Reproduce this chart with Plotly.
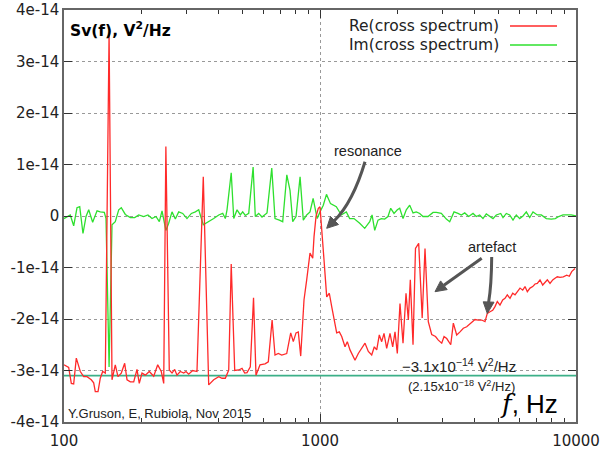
import plotly.graph_objects as go

# ---------------- data (values in units of 1e-14 V^2/Hz) ----------------
RE_FREQ = [
    100, 104.3, 106.8, 109.1, 111.7, 115.8, 119.4, 123.0, 127.8, 130.6,
    132.5, 135.8, 138.6, 141.6, 145.0, 150, 154.0, 158.6, 162.5, 167.4,
    172.6, 176.3, 181.6, 187.2, 192.8, 196.8, 201.7, 207.8, 215.4, 224.1,
    232.3, 239.9, 245.2, 250, 257.8, 264.2, 270.6, 276.3, 284.6, 293.5,
    299.6, 306.9, 318.2, 330.7, 350, 367.5, 384.4, 402.2, 414.3, 426.8,
    440.0, 450, 464.4, 481.4, 495.9, 508.1, 518.7, 534.3, 550, 562.3,
    583.0, 609.9, 628.2, 650, 667.2, 687.3, 708.7, 741.3, 768.4, 786.6,
    806.0, 822.7, 840.7, 866.0, 887.2, 914.0, 936.6, 947.7, 964.7, 984.9,
    1000, 1015.4, 1036.6, 1062.1, 1087.3, 1111.0, 1137.4, 1162.0, 1189.6, 1215.6,
    1252.3, 1278.3, 1309.9, 1342.0, 1370.1, 1411.4, 1455.3, 1499.2, 1544.4, 1592.2,
    1630, 1665.6, 1704.8, 1741.8, 1778.3, 1822.0, 1876.9, 1923, 1963.4, 2004.6,
    2053.6, 2110, 2167.6, 2213, 2253.2, 2308.9, 2360.5, 2429.4, 2507.2, 2571.6,
    2648.6, 2731, 2826.7, 2898.7, 2988.8, 3051.4, 3126.5, 3240.9, 3317.8, 3419.8,
    3523, 3629, 3741.5, 3854.3, 3949.5, 4032, 4154, 4282, 4411, 4503,
    4614, 4727, 4826, 4927, 5048, 5172, 5281, 5390, 5524, 5659,
    5777, 5898, 6044, 6192, 6322, 6455, 6612, 6775, 6916, 7061,
    7235, 7413, 7568, 7727, 7916, 8110, 8279, 8453, 8660, 8920,
    9199, 9415, 9621, 9910,
]
RE_VAL = [
    -2.89, -2.94, -3.25, -3.26, -2.76, -3.02, -3.12, -3.12, -3.18, -3.24,
    -3.41, -3.41, -3.15, -3.02, -3.05, 3.55, -3.18, -2.89, -3.12, -3.05,
    -2.86, -3.18, -3.22, -3.22, -2.98, -3.25, -3.05, -3.09, -3.02, -3.11,
    -2.89, -3.02, -3.25, 1.35, -2.99, -3.05, -2.98, -3.09, -3.02, -3.05,
    -3.02, -3.07, -3.00, -3.02, 0.76, -3.28, -3.18, -3.12, -3.15, -3.15,
    -2.99, -0.93, -3.00, -2.99, -2.96, -3.05, -3.04, -2.93, -1.59, -3.09,
    -2.89, -2.87, -2.83, -2.02, -2.70, -2.67, -2.70, -2.67, -2.27, -2.44,
    -2.27, -2.25, -2.72, -1.63, -1.24, -0.72, -0.82, -0.40, -0.01, 0.15,
    0.18, -0.21, -0.85, -1.57, -1.50, -1.76, -2.02, -2.27, -2.25, -2.34,
    -2.54, -2.44, -2.60, -2.70, -2.80, -2.67, -2.57, -2.47, -2.63, -2.70,
    -2.54, -2.60, -2.31, -2.44, -2.28, -2.57, -2.28, -2.54, -2.25, -2.67,
    -1.70, -2.47, -1.50, -2.02, -1.24, -2.50, -0.63, -0.53, -1.98, -0.63,
    -2.05, -2.30, -2.34, -2.41, -2.47, -2.34, -2.38, -2.50, -2.08, -2.31,
    -2.25, -2.18, -2.15, -2.10, -2.05, -2.01, -2.02, -2.02, -2.05, -1.89,
    -1.86, -1.83, -1.76, -1.66, -1.73, -1.63, -1.60, -1.53, -1.60, -1.50,
    -1.53, -1.47, -1.40, -1.44, -1.37, -1.47, -1.40, -1.37, -1.32, -1.31,
    -1.24, -1.34, -1.28, -1.24, -1.31, -1.24, -1.21, -1.18, -1.19, -1.18,
    -1.15, -1.17, -1.08, -1.02,
]
IM_FREQ = [
    100, 102.7, 105.8, 109.1, 112.4, 115.2, 118.6, 121.9, 124.9, 129.4,
    134.6, 138.6, 143.7, 145.9, 150, 154.0, 158.6, 163.6, 167.4, 173.6,
    181.6, 188.9, 195.8, 204.8, 212.8, 220.7, 228.7, 235.7, 241.5, 250,
    256.4, 264.2, 272.2, 280.6, 290.9, 302.3, 314.4, 325.9, 335.9, 350,
    367.5, 384.4, 402.2, 416.9, 426.8, 433.3, 450, 460.3, 474.2, 488.4,
    498.9, 510.8, 526.7, 548, 558.8, 576.2, 593.5, 621.0, 648, 667.2,
    693.5, 715.1, 742, 763.6, 782.4, 806.0, 836, 860.6, 887.2, 914.0,
    940, 958, 975, 1000, 1030, 1060, 1099, 1158, 1211, 1267,
    1306, 1358, 1429, 1495, 1564, 1597, 1636, 1685, 1736, 1789,
    1843, 1889, 1946, 2005, 2048, 2110, 2173, 2241, 2309, 2378,
    2452, 2525, 2642, 2764, 2847, 2978, 3115, 3211, 3338, 3460,
    3565, 3675, 3810, 3960, 4078, 4205, 4332, 4463, 4601, 4740,
    4883, 5081, 5187, 5343, 5508, 5674, 5845, 6027, 6209, 6396,
    6594, 6792, 7061, 7321, 7656, 8007, 8300, 8558, 8896, 9306,
    9585, 10000,
]
IM_VAL = [
    -0.05, -0.01, 0.02, -0.19, 0.16, 0.18, -0.34, -0.01, 0.12, -0.12,
    0.10, 0.08, 0.07, -0.05, -2.93, -0.17, -0.11, 0.12, 0.16, 0.03,
    -0.03, -0.03, 0.02, -0.01, 0.02, -0.05, -0.01, -0.11, 0.10, -0.28,
    -0.14, 0.08, -0.06, 0.08, 0.05, -0.05, 0.05, 0.08, 0.12, -0.17,
    -0.11, -0.05, 0.02, 0.05, -0.05, 0.12, 0.84, -0.05, 0.12, 0.02,
    0.08, 0.01, 0.05, 0.95, -0.01, 0.05, -0.02, 0.06, 0.93, -0.05,
    -0.08, -0.11, 0.80, 0.50, -0.11, -0.01, 0.76, -0.08, 0.02, 0.08,
    0.34, 0.12, -0.05, 0.08, 0.21, 0.42, 0.24, 0.18, 0.02, 0.08,
    -0.05, -0.05, -0.14, -0.24, -0.11, 0.02, -0.28, -0.08, -0.05, -0.06,
    -0.01, 0.15, 0.05, 0.12, 0.15, -0.05, 0.12, 0.21, 0.06, 0.08,
    0.05, -0.01, -0.01, 0.07, 0.07, 0.05, -0.06, -0.11, 0.08, 0.05,
    0.02, 0.06, -0.01, 0.05, -0.01, 0.02, -0.05, 0.04, -0.01, -0.05,
    0.02, 0.05, -0.03, 0.05, 0.02, -0.08, 0.02, -0.05, 0.0, 0.08,
    -0.03, 0.08, 0.02, 0.02, -0.05, -0.06, -0.05, -0.01, 0.02, 0.02,
    0.02, 0.0,
]
SCALE = 1e-14
MEAN_LEVEL = -3.1  # horizontal reference line, x1e-14
Y_TICKS = [4, 3, 2, 1, 0, -1, -2, -3, -4]
Y_TICK_TEXT = ["4e-14", "3e-14", "2e-14", "1e-14", "0", "-1e-14", "-2e-14", "-3e-14", "-4e-14"]
X_TICKS = [100, 1000, 10000]
X_TICK_TEXT = ["100", "1000", "10000"]
X_MINOR = [200, 300, 400, 500, 600, 700, 800, 900,
           2000, 3000, 4000, 5000, 6000, 7000, 8000, 9000]

assert len(RE_FREQ) == len(RE_VAL)
assert len(IM_FREQ) == len(IM_VAL)

RED = "#ff2a2a"
GREEN = "#2ee02e"
TEAL = "#3cb088"
ARROW = "#555555"
TXT = "#222222"

fig = go.Figure()
fig.add_trace(go.Scatter(x=[100, 10000], y=[MEAN_LEVEL * SCALE] * 2, mode="lines",
                         line=dict(color=TEAL, width=1.6), showlegend=False, hoverinfo="skip"))
fig.add_trace(go.Scatter(x=IM_FREQ, y=[v * SCALE for v in IM_VAL], mode="lines",
                         line=dict(color=GREEN, width=1.3), name="Im(cross spectrum)", showlegend=False))
fig.add_trace(go.Scatter(x=RE_FREQ, y=[v * SCALE for v in RE_VAL], mode="lines",
                         line=dict(color=RED, width=1.3), name="Re(cross spectrum)", showlegend=False))

W, H = 603, 455
# plot area in window pixels (as in the reference)
PL, PR, PT, PB = 64, 576, 10, 422
L, T, R, B = PL, PT, W - PR, H - PB
PW, PH = PR - PL, PB - PT


def px(x):
    return (x - PL) / PW


def py(y):
    return (PB - y) / PH


shapes = []
# legend line samples
shapes.append(dict(type="line", xref="paper", yref="paper", x0=px(510), x1=px(557),
                   y0=py(26), y1=py(26), line=dict(color=RED, width=1.3)))
shapes.append(dict(type="line", xref="paper", yref="paper", x0=px(510), x1=px(557),
                   y0=py(45), y1=py(45), line=dict(color=GREEN, width=1.3)))


def curve(p0, c, p1):
    return dict(type="path", xref="paper", yref="paper",
                path=f"M {px(p0[0])},{py(p0[1])} Q {px(c[0])},{py(c[1])} {px(p1[0])},{py(p1[1])}",
                line=dict(color=ARROW, width=3))


def head(tip, a, b):
    return dict(type="path", xref="paper", yref="paper",
                path=f"M {px(tip[0])},{py(tip[1])} L {px(a[0])},{py(a[1])} L {px(b[0])},{py(b[1])} Z",
                fillcolor=ARROW, line=dict(color=ARROW, width=1))


# resonance arrow
shapes.append(curve((365, 161.7), (352.9, 202.1), (334.5, 220.5)))
shapes.append(head((326.7, 228.3), (338.5, 224.5), (330.5, 216.5)))
# artefact arrows
shapes.append(curve((481.7, 258.3), (462, 272.4), (443.9, 285.3)))
shapes.append(head((435, 291.7), (447.2, 289.6), (440.6, 280.9)))
shapes.append(curve((491.7, 257), (491.5, 285), (488.6, 302.6)))
shapes.append(head((487.3, 313.5), (494, 302.2), (483.2, 301.8)))

SANS = "Liberation Sans, Arial, sans-serif"
DJ = "DejaVu Sans, sans-serif"

annotations = [
    dict(text="<b>Sv(f), V<sup>2</sup>/Hz</b>", x=px(68), y=py(30), xanchor="left", yanchor="middle",
         font=dict(family=DJ, size=15.5, color="#000")),
    dict(text="Re(cross spectrum)", x=px(501), y=py(26), xanchor="right", yanchor="middle",
         font=dict(family=DJ, size=15.5, color=TXT)),
    dict(text="Im(cross spectrum)", x=px(501), y=py(45), xanchor="right", yanchor="middle",
         font=dict(family=DJ, size=15.5, color=TXT)),
    dict(text="resonance", x=px(367.5), y=py(151), xanchor="center", yanchor="middle",
         font=dict(family=SANS, size=14.5, color=TXT)),
    dict(text="artefact", x=px(492), y=py(247), xanchor="center", yanchor="middle",
         font=dict(family=SANS, size=14.5, color=TXT)),
    dict(text="Y.Gruson, E, Rubiola, Nov 2015", x=px(66), y=py(413), xanchor="left", yanchor="middle",
         font=dict(family=SANS, size=13, color=TXT)),
    dict(text="\u22123.1x10<sup>\u221214</sup> V<sup>2</sup>/Hz", x=px(459), y=py(365), xanchor="center",
         yanchor="middle", font=dict(family=SANS, size=15, color=TXT)),
    dict(text="(2.15x10<sup>\u221218</sup> V<sup>2</sup>/Hz)", x=px(461), y=py(386), xanchor="center",
         yanchor="middle", font=dict(family=SANS, size=13, color=TXT)),
    dict(text="<span style=\"font-family:'DejaVu Serif'\"><i>f</i></span>, Hz", x=px(529), y=py(404),
         xanchor="center", yanchor="middle", font=dict(family=SANS, size=26, color="#000")),
]
for a in annotations:
    a.update(xref="paper", yref="paper", showarrow=False)

fig.update_layout(
    width=W, height=H,
    margin=dict(l=L, r=R, t=T, b=B, pad=0, autoexpand=False),
    paper_bgcolor="white", plot_bgcolor="white",
    showlegend=False,
    shapes=shapes,
    annotations=annotations,
    xaxis=dict(type="log", range=[2, 4], tickvals=X_TICKS, ticktext=X_TICK_TEXT, automargin=False,
               ticks="inside", ticklen=8, tickcolor="#333", tickwidth=1, ticklabelstandoff=4,
               ticklabeloverflow="allow",
               showline=True, linecolor="#666", linewidth=1.5, mirror="ticks",
               showgrid=True, gridcolor="#999", griddash="dot", gridwidth=1,
               zeroline=False, tickfont=dict(family=DJ, size=15, color=TXT),
               minor=dict(tickvals=X_MINOR, ticks="inside", ticklen=4, tickcolor="#333", showgrid=False)),
    yaxis=dict(range=[-4 * SCALE, 4 * SCALE], tickvals=[v * SCALE for v in Y_TICKS], ticktext=Y_TICK_TEXT,
               automargin=False, ticklabeloverflow="allow",
               ticks="inside", ticklen=8, tickcolor="#333", tickwidth=1,
               showline=True, linecolor="#666", linewidth=1.5, mirror="ticks",
               showgrid=True, gridcolor="#999", griddash="dot", gridwidth=1,
               zeroline=False, tickfont=dict(family=DJ, size=15, color=TXT)),
)

# remove the default 8px page margin so the figure fills the window exactly
fig.write_html("out.html", config={"displayModeBar": False},
               post_script="document.body.style.margin='0';")
